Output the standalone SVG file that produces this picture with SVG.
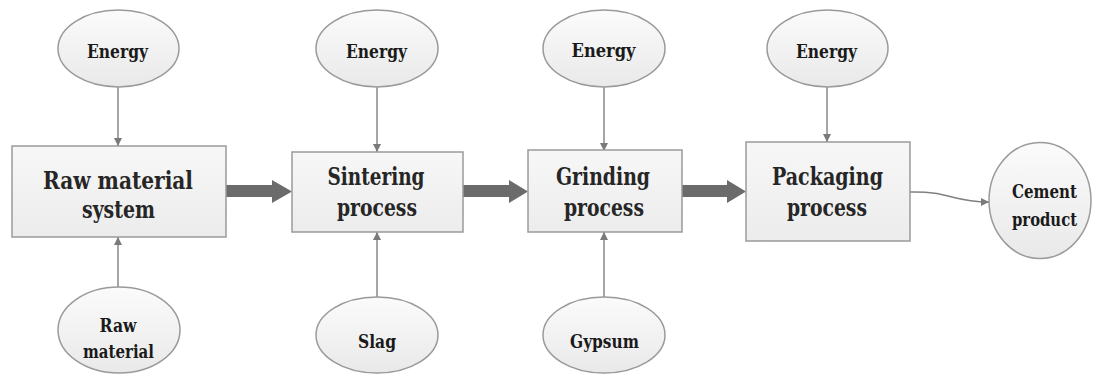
<svg xmlns="http://www.w3.org/2000/svg" width="1093" height="374" viewBox="0 0 1093 374">
<defs>
<linearGradient id="gE" x1="0" y1="0" x2="0" y2="1"><stop offset="0" stop-color="#fbfbfb"/><stop offset="1" stop-color="#e9e9e9"/></linearGradient>
<linearGradient id="gB" x1="0" y1="0" x2="0" y2="1"><stop offset="0" stop-color="#f7f7f7"/><stop offset="1" stop-color="#ececec"/></linearGradient>
<marker id="ah" viewBox="0 0 10 10" refX="10" refY="5" markerWidth="8" markerHeight="8" markerUnits="userSpaceOnUse" orient="auto"><path d="M0,0 L10,5 L0,10 Z" fill="#7a7a7a"/></marker>
</defs>
<style>
.box{fill:url(#gB);stroke:#9a9a9a;stroke-width:1.5}
.ell{fill:url(#gE);stroke:#9a9a9a;stroke-width:1.5}
text{font-family:'DejaVu Serif','Liberation Serif',serif;font-weight:bold;text-anchor:middle;font-stretch:condensed}
.bt{font-size:23.5px;fill:#262626}
.et{font-size:18px;fill:#1a1a1a}
.thin{stroke:#808080;stroke-width:1.4;fill:none;marker-end:url(#ah)}
.thick{fill:#6b6b6b}
</style>
<rect width="1093" height="374" fill="#ffffff"/>
<g id="connectors">
<line class="thin" x1="118" y1="87" x2="118" y2="146"/>
<line class="thin" x1="118" y1="287" x2="118" y2="237"/>
<line class="thin" x1="377" y1="87" x2="377" y2="152"/>
<line class="thin" x1="377" y1="297" x2="377" y2="232"/>
<line class="thin" x1="604" y1="87" x2="604" y2="151"/>
<line class="thin" x1="604" y1="297" x2="604" y2="232"/>
<line class="thin" x1="827" y1="87" x2="827" y2="142"/>
<path class="thin" d="M910,192 C950,191 952,202 989,202"/>
<path class="thick" d="M226,185 L272,185 L272,180 L292,191.5 L272,203 L272,197 L226,197 Z"/>
<path class="thick" d="M463,185 L509,185 L509,180 L528,191.5 L509,203 L509,197 L463,197 Z"/>
<path class="thick" d="M682,185 L727,185 L727,180 L746,191.5 L727,203 L727,197 L682,197 Z"/>
</g>
<g id="raw-material-system"><rect class="box" x="12" y="146" width="214" height="91"/><text class="bt" x="118" y="189" textLength="150" lengthAdjust="spacingAndGlyphs">Raw material</text><text class="bt" x="118.5" y="218" textLength="73" lengthAdjust="spacingAndGlyphs">system</text></g>
<g id="sintering"><rect class="box" x="292" y="152" width="171" height="80"/><text class="bt" x="376" y="185" textLength="97" lengthAdjust="spacingAndGlyphs">Sintering</text><text class="bt" x="377" y="216" textLength="80" lengthAdjust="spacingAndGlyphs">process</text></g>
<g id="grinding"><rect class="box" x="528" y="150" width="154" height="82"/><text class="bt" x="603" y="185" textLength="94" lengthAdjust="spacingAndGlyphs">Grinding</text><text class="bt" x="604" y="216" textLength="80" lengthAdjust="spacingAndGlyphs">process</text></g>
<g id="packaging"><rect class="box" x="746" y="142" width="164" height="99"/><text class="bt" x="827.5" y="185" textLength="111" lengthAdjust="spacingAndGlyphs">Packaging</text><text class="bt" x="827" y="216" textLength="80" lengthAdjust="spacingAndGlyphs">process</text></g>
<g id="energy1"><ellipse class="ell" cx="118.5" cy="48.5" rx="60.5" ry="38.5"/><text class="et" x="117.5" y="58" textLength="61" lengthAdjust="spacingAndGlyphs">Energy</text></g>
<g id="energy2"><ellipse class="ell" cx="377" cy="48.5" rx="61" ry="38.5"/><text class="et" x="376.5" y="58" textLength="61" lengthAdjust="spacingAndGlyphs">Energy</text></g>
<g id="energy3"><ellipse class="ell" cx="604" cy="48.5" rx="61" ry="38.5"/><text class="et" x="603.5" y="57" textLength="64" lengthAdjust="spacingAndGlyphs">Energy</text></g>
<g id="energy4"><ellipse class="ell" cx="827.5" cy="48.5" rx="60.5" ry="38.5"/><text class="et" x="826.5" y="58" textLength="61" lengthAdjust="spacingAndGlyphs">Energy</text></g>
<g id="raw-material"><ellipse class="ell" cx="119" cy="330" rx="61" ry="43"/><text class="et" x="118" y="332" textLength="37" lengthAdjust="spacingAndGlyphs">Raw</text><text class="et" x="118.5" y="358" textLength="71" lengthAdjust="spacingAndGlyphs">material</text></g>
<g id="slag"><ellipse class="ell" cx="377" cy="335" rx="61" ry="38"/><text class="et" x="377" y="348" textLength="38" lengthAdjust="spacingAndGlyphs">Slag</text></g>
<g id="gypsum"><ellipse class="ell" cx="604" cy="335" rx="61" ry="38"/><text class="et" x="604.5" y="348" textLength="69" lengthAdjust="spacingAndGlyphs">Gypsum</text></g>
<g id="cement-product"><ellipse class="ell" cx="1040" cy="200.5" rx="51" ry="58"/><text class="et" x="1044.5" y="198" textLength="65" lengthAdjust="spacingAndGlyphs">Cement</text><text class="et" x="1044.5" y="226" textLength="65" lengthAdjust="spacingAndGlyphs">product</text></g>
</svg>
